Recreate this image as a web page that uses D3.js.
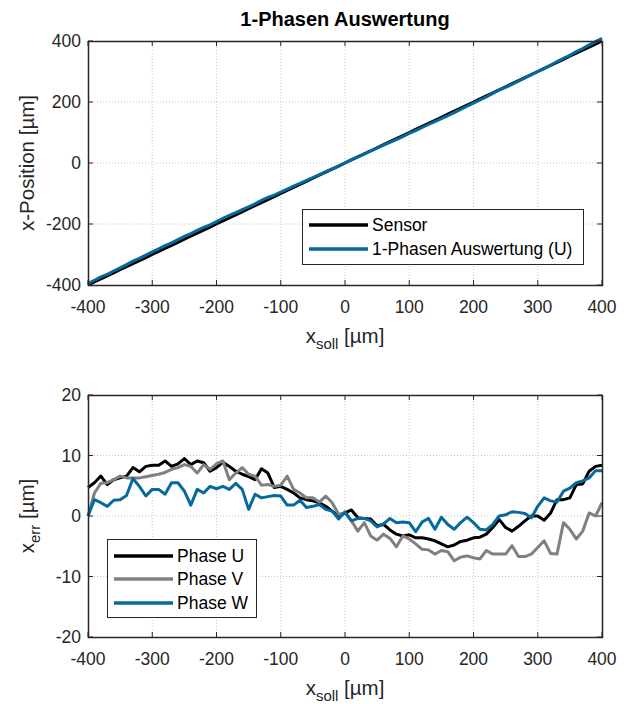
<!DOCTYPE html>
<html>
<head>
<meta charset="utf-8">
<script src="https://cdn.jsdelivr.net/npm/d3@7"></script>
<style>
  body { margin: 0; background: #fff; }
  svg { display: block; font-family: "Liberation Sans", Arial, sans-serif; }
</style>
</head>
<body>
<svg width="632" height="704"></svg>
<script>
// soll positions in µm (10 µm steps)
const xSoll = d3.range(-400, 401, 10);

// error of each phase evaluation [µm]
const errU = [4.7, 5.5, 6.6, 5.2, 6.0, 6.3, 6.6, 8.0, 7.3, 8.2, 8.4, 8.4, 9.1, 8.2, 8.6, 9.5, 8.5, 9.1, 8.8, 7.4,
  8.0, 8.9, 8.2, 7.4, 6.9, 6.5, 6.0, 7.8, 7.1, 4.7, 4.9, 4.4, 3.8, 3.0, 2.7, 2.5, 2.2, 1.6, 0.8, 0.0,
  0.5, 1.0, -0.3, -0.4, -0.5, -1.6, -1.4, -2.3, -3.0, -3.3, -3.1, -3.6, -3.6, -3.8, -4.1, -4.6, -5.1, -4.8, -4.2, -4.0,
  -3.6, -3.5, -3.0, -1.9, -0.6, -1.9, -2.5, -1.7, -0.8, 0.0, 0.0, -0.7, 0.5, 2.7, 2.7, 3.0, 5.2, 5.3, 7.4, 8.2, 8.4];
const errV = [0.0, 3.8, 5.4, 5.5, 6.0, 6.6, 6.3, 6.3, 6.3, 6.5, 6.7, 6.9, 7.2, 7.7, 8.0, 8.5, 8.2, 7.1, 8.5, 7.7,
  8.6, 9.1, 6.0, 7.1, 8.0, 6.9, 6.6, 5.1, 5.2, 4.9, 5.1, 6.6, 4.4, 3.8, 3.0, 3.0, 2.3, 3.3, 2.2, 0.3,
  0.5, -0.8, -2.5, -1.1, -3.3, -4.0, -3.0, -3.7, -5.1, -3.3, -3.8, -4.6, -5.5, -5.6, -6.3, -5.7, -5.9, -7.4, -6.8, -6.6,
  -6.9, -7.1, -5.7, -6.3, -6.3, -6.3, -4.9, -6.7, -6.7, -6.3, -5.2, -4.1, -6.2, -6.3, -1.1, -2.2, -3.8, -2.5, 0.5, 0.0, 2.2];
const errW = [0.0, 2.7, 2.2, 1.6, 2.6, 2.7, 3.4, 6.2, 4.9, 3.3, 4.4, 4.4, 3.6, 5.5, 5.5, 4.1, 1.8, 4.4, 3.8, 4.9,
  4.5, 4.9, 4.4, 5.4, 4.4, 1.1, 3.6, 3.0, 3.2, 3.4, 3.3, 1.8, 1.8, 2.6, 1.4, 1.6, 1.9, 1.1, 0.8, -0.5,
  0.7, -0.8, -0.4, -0.4, -0.8, -1.8, -1.3, -0.4, -1.1, -1.0, -1.1, -2.6, -1.0, -0.4, -2.2, -0.2, -1.4, -2.2, -1.1, -0.2,
  -1.1, -2.2, -2.3, -1.4, 0.0, 0.2, 0.7, 0.6, 0.4, -0.3, 1.6, 3.0, 2.5, 2.3, 4.1, 4.6, 5.5, 5.8, 6.3, 7.5, 7.5];

// upper plot: sensor position and 1-phase evaluation (U)
const sensorPos = xSoll.slice();
const phaseUPos = xSoll.map((x, i) => x + errU[i]);

const xTicks = [-400, -300, -200, -100, 0, 100, 200, 300, 400];
const yTicksTop = [-400, -200, 0, 200, 400];
const yTicksBottom = [-20, -10, 0, 10, 20];

const blue = '#05699b';
const svg = d3.select('svg');

const left = 88, right = 602;

const x = d3.scaleLinear().domain([-400, 400]).range([left, right]);
const yTop = d3.scaleLinear().domain([-400, 400]).range([285, 41]);
const yBot = d3.scaleLinear().domain([-20, 20]).range([637, 395]);

const drawAxes = (yScale, yTicks) => {
  const g = svg.append('g');
  const [y0, y1] = yScale.range();
  // grid
  g.selectAll('.gx').data(xTicks.slice(1, -1)).enter().append('line')
    .attr('x1', d => x(d)).attr('x2', d => x(d))
    .attr('y1', y1).attr('y2', y0)
    .attr('stroke', '#c8c8c8').attr('stroke-dasharray', '1,2');
  g.selectAll('.gy').data(yTicks.slice(1, -1)).enter().append('line')
    .attr('x1', left).attr('x2', right)
    .attr('y1', d => yScale(d)).attr('y2', d => yScale(d))
    .attr('stroke', '#c8c8c8').attr('stroke-dasharray', '1,2');
  return g;
};

const drawFrame = (yScale, yTicks) => {
  const g = svg.append('g');
  const [y0, y1] = yScale.range();
  const tl = 5;
  xTicks.forEach(t => {
    g.append('line').attr('x1', x(t)).attr('x2', x(t)).attr('y1', y0).attr('y2', y0 - tl).attr('stroke', '#262626');
    g.append('line').attr('x1', x(t)).attr('x2', x(t)).attr('y1', y1).attr('y2', y1 + tl).attr('stroke', '#262626');
  });
  yTicks.forEach(t => {
    g.append('line').attr('x1', left).attr('x2', left + tl).attr('y1', yScale(t)).attr('y2', yScale(t)).attr('stroke', '#262626');
    g.append('line').attr('x1', right).attr('x2', right - tl).attr('y1', yScale(t)).attr('y2', yScale(t)).attr('stroke', '#262626');
  });
  g.append('rect')
    .attr('x', left + 0.5).attr('y', y1 + 0.5)
    .attr('width', right - left).attr('height', y0 - y1)
    .attr('fill', 'none').attr('stroke', '#262626').attr('stroke-width', 1.5);

  g.selectAll('.xt').data(xTicks).enter().append('text')
    .attr('x', d => x(d)).attr('y', y0 + 28)
    .attr('text-anchor', 'middle').attr('font-size', 17.5).attr('fill', '#262626')
    .text(d => d);
  g.selectAll('.yt').data(yTicks).enter().append('text')
    .attr('x', left - 7).attr('y', d => yScale(d)).attr('dy', '0.35em')
    .attr('text-anchor', 'end').attr('font-size', 17.5).attr('fill', '#262626')
    .text(d => d);

  const xl = g.append('text')
    .attr('x', (left + right) / 2).attr('y', y0 + 58)
    .attr('text-anchor', 'middle').attr('font-size', 20.5).attr('fill', '#262626');
  xl.append('tspan').text('x');
  xl.append('tspan').attr('font-size', 15).attr('dy', 6).text('soll');
  xl.append('tspan').attr('dy', -6).text(' [µm]');
  return g;
};

const line = (yScale, vals) => d3.line()
  .x((d, i) => x(xSoll[i]))
  .y(d => yScale(d))(vals);

// ---- upper plot
drawAxes(yTop, yTicksTop);
svg.append('path').attr('d', line(yTop, sensorPos))
  .attr('fill', 'none').attr('stroke', '#000').attr('stroke-width', 3);
svg.append('path').attr('d', line(yTop, phaseUPos))
  .attr('fill', 'none').attr('stroke', blue).attr('stroke-width', 3);
drawFrame(yTop, yTicksTop);

svg.append('text').attr('x', 345).attr('y', 26)
  .attr('text-anchor', 'middle').attr('font-size', 20).attr('font-weight', 'bold')
  .attr('fill', '#000').text('1-Phasen Auswertung');

svg.append('text')
  .attr('transform', `translate(34,${(41 + 285) / 2}) rotate(-90)`)
  .attr('text-anchor', 'middle').attr('font-size', 20.5).attr('fill', '#262626')
  .text('x-Position [µm]');

const legend = (x0, y0, w, h, rows, rowY) => {
  const g = svg.append('g');
  g.append('rect').attr('x', x0 + 0.5).attr('y', y0 + 0.5).attr('width', w).attr('height', h)
    .attr('fill', '#fff').attr('stroke', '#262626').attr('stroke-width', 1);
  rows.forEach((r, i) => {
    const yy = y0 + rowY[i];
    g.append('line').attr('x1', x0 + 7).attr('x2', x0 + 66).attr('y1', yy).attr('y2', yy)
      .attr('stroke', r.color).attr('stroke-width', 3.5);
    g.append('text').attr('x', x0 + 70).attr('y', yy).attr('dy', '0.35em')
      .attr('font-size', 17.5).attr('fill', '#000').text(r.name);
  });
};

legend(302, 209, 281, 55, [
  { name: 'Sensor', color: '#000' },
  { name: '1-Phasen Auswertung (U)', color: blue }
], [16, 40]);

// ---- lower plot
drawAxes(yBot, yTicksBottom);
[[errU, '#000'], [errV, '#808080'], [errW, blue]].forEach(([vals, c]) => {
  svg.append('path').attr('d', line(yBot, vals))
    .attr('fill', 'none').attr('stroke', c).attr('stroke-width', 3)
    .attr('stroke-linejoin', 'round');
});
drawFrame(yBot, yTicksBottom);

const yl = svg.append('text')
  .attr('transform', `translate(34,${(395 + 637) / 2}) rotate(-90)`)
  .attr('text-anchor', 'middle').attr('font-size', 20.5).attr('fill', '#262626');
yl.append('tspan').text('x');
yl.append('tspan').attr('font-size', 15).attr('dy', 6).text('err');
yl.append('tspan').attr('dy', -6).text(' [µm]');

legend(107, 539, 149, 78, [
  { name: 'Phase U', color: '#000' },
  { name: 'Phase V', color: '#808080' },
  { name: 'Phase W', color: blue }
], [17, 40, 64]);
</script>
</body>
</html>
